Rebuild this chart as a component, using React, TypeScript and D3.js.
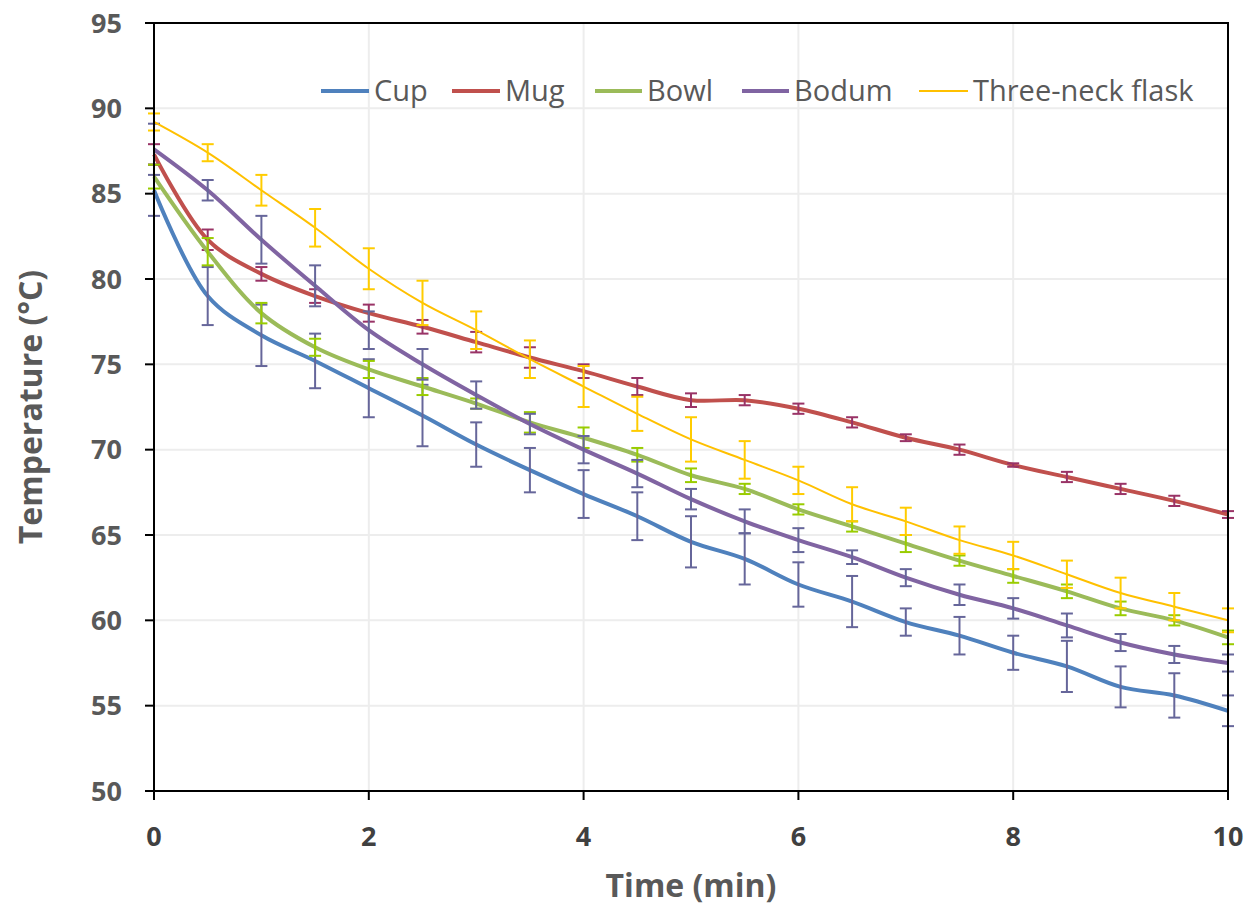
import React from "react";
import * as d3 from "d3";

const times = [0, 0.5, 1, 1.5, 2, 2.5, 3, 3.5, 4, 4.5, 5, 5.5, 6, 6.5, 7, 7.5, 8, 8.5, 9, 9.5, 10];
const xTicks = [0, 2, 4, 6, 8, 10];
const yTicks = [50, 55, 60, 65, 70, 75, 80, 85, 90, 95];

const cupValues = [85.2, 79.0, 76.7, 75.2, 73.6, 72.0, 70.3, 68.8, 67.4, 66.1, 64.6, 63.6, 62.1, 61.1, 59.9, 59.1, 58.1, 57.3, 56.1, 55.6, 54.7];
const cupErr = [1.5, 1.7, 1.8, 1.6, 1.7, 1.8, 1.3, 1.3, 1.4, 1.4, 1.5, 1.5, 1.3, 1.5, 0.8, 1.1, 1.0, 1.5, 1.2, 1.3, 0.9];
const mugValues = [87.3, 82.3, 80.3, 79.0, 78.0, 77.2, 76.3, 75.4, 74.6, 73.7, 72.9, 72.9, 72.4, 71.6, 70.7, 70.0, 69.1, 68.4, 67.7, 67.0, 66.2];
const mugErr = [0.6, 0.6, 0.4, 0.4, 0.5, 0.4, 0.6, 0.6, 0.4, 0.5, 0.4, 0.3, 0.3, 0.3, 0.2, 0.3, 0.1, 0.3, 0.3, 0.3, 0.2];
const bowlValues = [86.0, 81.6, 78.0, 76.0, 74.7, 73.7, 72.7, 71.6, 70.7, 69.7, 68.5, 67.7, 66.5, 65.5, 64.5, 63.5, 62.6, 61.7, 60.7, 60.0, 59.0];
const bowlErr = [0.7, 0.8, 0.6, 0.5, 0.5, 0.5, 0.3, 0.6, 0.6, 0.4, 0.4, 0.3, 0.3, 0.3, 0.5, 0.3, 0.4, 0.4, 0.4, 0.3, 0.4];
const bodumValues = [87.6, 85.2, 82.3, 79.6, 77.0, 75.0, 73.2, 71.5, 70.0, 68.6, 67.1, 65.8, 64.7, 63.7, 62.5, 61.5, 60.7, 59.7, 58.7, 58.0, 57.5];
const bodumErr = [1.5, 0.6, 1.4, 1.2, 1.1, 0.9, 0.8, 0.6, 0.8, 0.8, 0.6, 0.7, 0.7, 0.4, 0.5, 0.6, 0.6, 0.7, 0.5, 0.5, 0.5];
const flaskValues = [89.2, 87.4, 85.2, 83.0, 80.6, 78.6, 77.0, 75.3, 73.7, 72.1, 70.6, 69.4, 68.2, 66.8, 65.8, 64.7, 63.8, 62.7, 61.6, 60.8, 60.0];
const flaskErr = [0.5, 0.5, 0.9, 1.1, 1.2, 1.3, 1.1, 1.1, 1.2, 1.0, 1.3, 1.1, 0.8, 1.0, 0.8, 0.8, 0.8, 0.8, 0.9, 0.8, 0.7];

const seriesNames = ["Cup", "Mug", "Bowl", "Bodum", "Three-neck flask"];

const series = [
  { name: seriesNames[0], values: cupValues, err: cupErr, color: "#4F81BD", errColor: "#66669A", width: 4, legendX: 321, legendW: 48 },
  { name: seriesNames[1], values: mugValues, err: mugErr, color: "#C0504D", errColor: "#993366", width: 4, legendX: 452, legendW: 48 },
  { name: seriesNames[2], values: bowlValues, err: bowlErr, color: "#9BBB59", errColor: "#99CC00", width: 4, legendX: 595, legendW: 47 },
  { name: seriesNames[3], values: bodumValues, err: bodumErr, color: "#8064A2", errColor: "#66669A", width: 4, legendX: 742, legendW: 47 },
  { name: seriesNames[4], values: flaskValues, err: flaskErr, color: "#FFC000", errColor: "#FFCC00", width: 2, legendX: 919, legendW: 49 },
];

const W = 1260;
const H = 908;
const left = 154;
const right = 1228;
const top = 23;
const bottom = 791;

export default function App() {
  const x = d3.scaleLinear().domain([0, 10]).range([left, right]);
  const y = d3.scaleLinear().domain([50, 95]).range([bottom, top]);
  const line = d3
    .line<number>()
    .x((_, i) => x(times[i]))
    .y((d) => y(d))
    .curve(d3.curveCatmullRom.alpha(0.5));

  const font = "'Open Sans', 'Liberation Sans', sans-serif";

  return (
    <svg width={W} height={H} style={{ position: "absolute", left: 0, top: 0, background: "#fff" }}>
      <rect x={0} y={0} width={W} height={H} fill="#fff" />
      {/* grid */}
      {yTicks.filter((t) => t > 50 && t < 95).map((t) => (
        <line key={"gy" + t} x1={left} x2={right} y1={y(t)} y2={y(t)} stroke="#EDEDED" strokeWidth={2} />
      ))}
      {xTicks.filter((t) => t > 0 && t < 10).map((t) => (
        <line key={"gx" + t} x1={x(t)} x2={x(t)} y1={top} y2={bottom} stroke="#EDEDED" strokeWidth={2} />
      ))}

      {/* series */}
      {series.map((s) => (
        <g key={s.name}>
          <path d={line(s.values) || ""} fill="none" stroke={s.color} strokeWidth={s.width} strokeLinejoin="round" />
          {s.values.map((v, i) => {
            const cx = x(times[i]);
            const y1 = y(v + s.err[i]);
            const y2 = y(v - s.err[i]);
            return (
              <g key={i} stroke={s.errColor} strokeWidth={2}>
                <line x1={cx} x2={cx} y1={y1} y2={y2} />
                <line x1={cx - 6} x2={cx + 6} y1={y1} y2={y1} />
                <line x1={cx - 6} x2={cx + 6} y1={y2} y2={y2} />
              </g>
            );
          })}
        </g>
      ))}

      {/* frame */}
      <rect x={left} y={top} width={right - left} height={bottom - top} fill="none" stroke="#000" strokeWidth={2} />
      {yTicks.map((t) => (
        <line key={"ty" + t} x1={left - 9} x2={left} y1={y(t)} y2={y(t)} stroke="#000" strokeWidth={2} />
      ))}
      {xTicks.map((t) => (
        <line key={"tx" + t} x1={x(t)} x2={x(t)} y1={bottom} y2={bottom + 9} stroke="#000" strokeWidth={2} />
      ))}

      {/* tick labels */}
      {yTicks.map((t) => (
        <text key={"ly" + t} x={122} y={y(t)} dy="0.36em" textAnchor="end" fontFamily={font} fontWeight="bold" fontSize={27} fill="#595959">
          {t}
        </text>
      ))}
      {xTicks.map((t) => (
        <text key={"lx" + t} x={x(t)} y={846} textAnchor="middle" fontFamily={font} fontWeight="bold" fontSize={27} fill="#404040">
          {t}
        </text>
      ))}

      {/* axis titles */}
      <text x={691} y={897} textAnchor="middle" fontFamily={font} fontWeight="bold" fontSize={32} fill="#595959">
        Time (min)
      </text>
      <text transform={`translate(42, 407) rotate(-90)`} textAnchor="middle" fontFamily={font} fontWeight="bold" fontSize={32} fill="#595959">
        Temperature (°C)
      </text>

      {/* legend */}
      {series.map((s) => (
        <g key={"lg" + s.name}>
          <line x1={s.legendX} x2={s.legendX + s.legendW} y1={91} y2={91} stroke={s.color} strokeWidth={s.width} />
          <text x={s.legendX + s.legendW + 5} y={91} dy="0.36em" fontFamily={font} fontSize={29} fill="#595959">
            {s.name}
          </text>
        </g>
      ))}
    </svg>
  );
}
